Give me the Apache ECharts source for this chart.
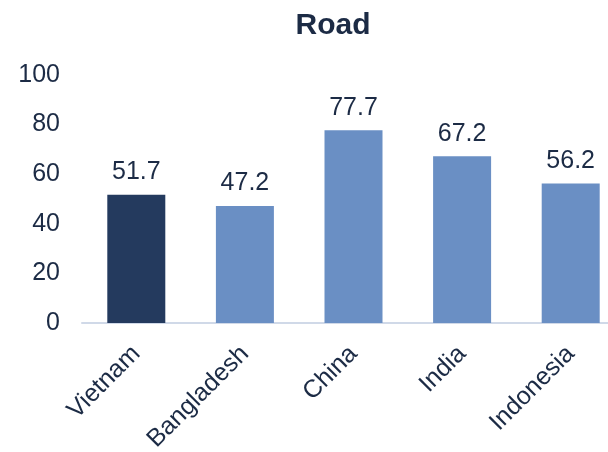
<!DOCTYPE html>
<html>
<head>
<meta charset="utf-8">
<script src="https://cdn.jsdelivr.net/npm/echarts@6/dist/echarts.min.js"></script>
<style>
    html, body { margin: 0; padding: 0; background: #fff; }
    #myChart { width: 608px; height: 452px; }
</style>
</head>
<body>
<div id="myChart"></div>
<script>
    const countries = ['Vietnam', 'Bangladesh', 'China', 'India', 'Indonesia'];
    const roadScores = [51.7, 47.2, 77.7, 67.2, 56.2];
    const highlightCountry = 'Vietnam';

    const textColor = '#1c2b45';
    const chart = echarts.init(document.getElementById('myChart'));
    const option = {
        animation: false,
        title: {
            text: 'Road',
            left: 328,
            textAlign: 'center',
            top: 6,
            textStyle: {
                fontFamily: 'Liberation Sans',
                fontSize: 30,
                fontWeight: 'bold',
                color: textColor
            }
        },
        grid: {
            left: 82,
            right: -17,
            top: 75,
            bottom: 129,
            outerBoundsMode: 'none'
        },
        xAxis: {
            type: 'category',
            data: countries,
            axisLine: { lineStyle: { color: '#d0d9e8', width: 2 } },
            axisTick: { show: false },
            axisLabel: {
                rotate: 45,
                margin: 27,
                interval: 0,
                fontFamily: 'Liberation Sans',
                fontSize: 25,
                color: textColor
            }
        },
        yAxis: {
            type: 'value',
            min: 0,
            max: 100,
            interval: 20,
            splitLine: { show: false },
            axisLine: { show: false },
            axisTick: { show: false },
            axisLabel: {
                margin: 22,
                fontFamily: 'Liberation Sans',
                fontSize: 25,
                color: textColor
            }
        },
        series: [{
            type: 'bar',
            barWidth: 58,
            data: roadScores.map((v, i) => ({
                value: v,
                itemStyle: { color: countries[i] === highlightCountry ? '#243a5e' : '#6a8fc4' }
            })),
            label: {
                show: true,
                position: 'top',
                distance: 10,
                fontFamily: 'Liberation Sans',
                fontSize: 25,
                color: textColor,
                formatter: p => p.value.toFixed(1)
            }
        }]
    };
    chart.setOption(option);
</script>
</body>
</html>
